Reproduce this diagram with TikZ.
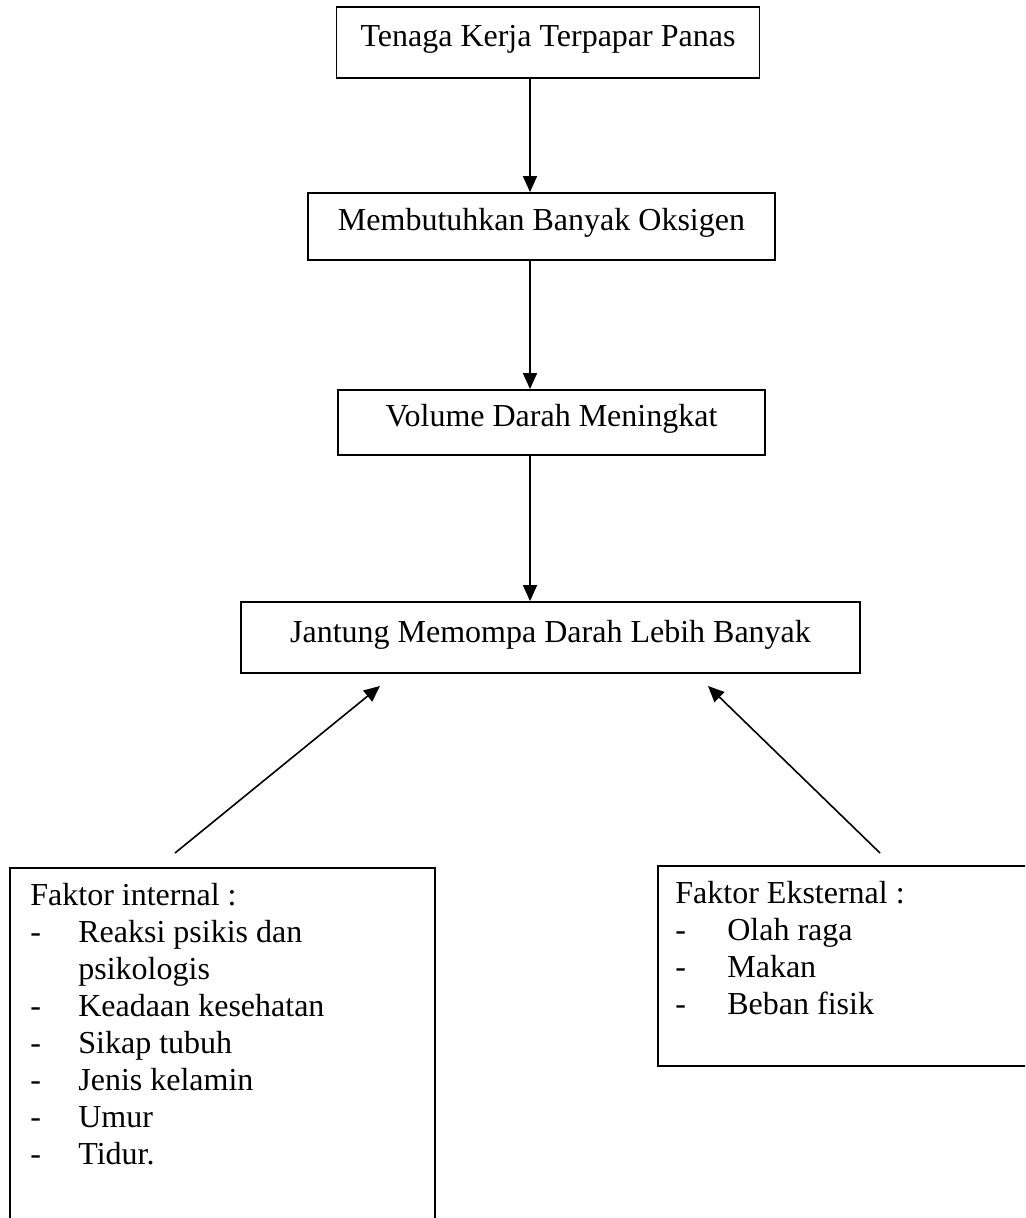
\documentclass[tikz,border=0pt]{standalone}
\usepackage{fontspec}
\setmainfont{Liberation Serif}
\usetikzlibrary{arrows.meta}
\begin{document}
\begin{tikzpicture}
[
    x=0.5pt, y=-0.5pt,
    every node/.style={font=\fontsize{16}{18.5}\selectfont},
    flowbox/.style={shape=rectangle, draw, line width=0.9pt, text height=11pt, text depth=6.5pt},
    factorbox/.style={shape=rectangle, draw, line width=0.9pt, anchor=north west, inner sep=0pt},
    listtext/.style={anchor=north west, align=left, inner sep=0pt},
    link/.style={line width=0.8pt, -{Triangle[length=8pt,width=7pt]}},
]
\clip (0,0) rectangle (1025,1218);

\node(tk) at (548,42.5) [flowbox, minimum width=211.5pt, minimum height=35.5pt]{Tenaga Kerja Terpapar Panas};
\node(mb) at (541.5,226.5) [flowbox, minimum width=233.5pt, minimum height=33.5pt]{Membutuhkan Banyak Oksigen};
\node(vd) at (551.5,422.5) [flowbox, minimum width=213.5pt, minimum height=32.5pt]{Volume Darah Meningkat};
\node(jm) at (550.5,637.5) [flowbox, minimum width=309.5pt, minimum height=35.5pt]{Jantung Memompa Darah Lebih Banyak};

\coordinate (ax) at (530,0);
\draw[link] (tk.south -| ax) to (mb.north -| ax);
\draw[link] (mb.south -| ax) to (vd.north -| ax);
\draw[link] (vd.south -| ax) to (jm.north -| ax);

\node(fi) at (9,867) [factorbox, minimum width=212.5pt, minimum height=200pt]{};
\node(fitext) at (30,883) [listtext]{Faktor internal :\\
\makebox[24pt][l]{-}Reaksi psikis dan\\
\hspace*{24pt}psikologis\\
\makebox[24pt][l]{-}Keadaan kesehatan\\
\makebox[24pt][l]{-}Sikap tubuh\\
\makebox[24pt][l]{-}Jenis kelamin\\
\makebox[24pt][l]{-}Umur\\
\makebox[24pt][l]{-}Tidur.};

\node(fe) at (657,865) [factorbox, minimum width=200pt, minimum height=100pt]{};
\node(fetext) at (675,881) [listtext]{Faktor Eksternal :\\
\makebox[26pt][l]{-}Olah raga\\
\makebox[26pt][l]{-}Makan\\
\makebox[26pt][l]{-}Beban fisik};

\coordinate (fiend) at (175,853);
\coordinate (fitip) at (380,686);
\coordinate (feend) at (880,853);
\coordinate (fetip) at (708,686);
\draw[link] (fiend) to (fitip);
\draw[link] (feend) to (fetip);

\end{tikzpicture}
\end{document}
